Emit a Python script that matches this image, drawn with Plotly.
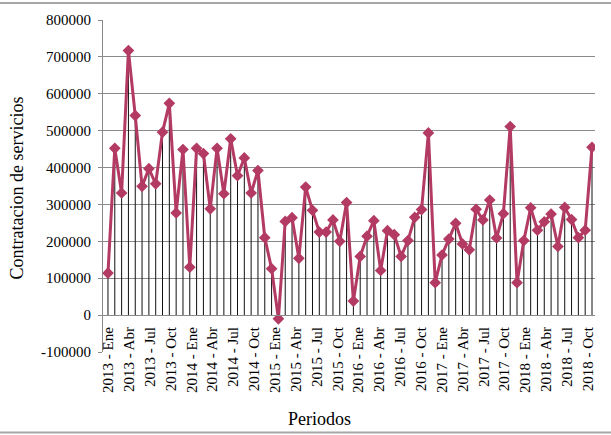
import plotly.graph_objects as go

# ---- data ----
values = [
    114000, 452000, 331000, 717000, 541000, 349000, 397000, 356000, 496000, 574000, 277000, 449000,
    130000, 452000, 438000, 288000, 452000, 329000, 478000, 378000, 426000, 331000, 392000, 210000,
    126000, -10000, 254000, 264000, 154000, 347000, 284000, 225000, 225000, 258000, 200000, 305000,
    38000, 159000, 214000, 256000, 121000, 229000, 218000, 159000, 202000, 265000, 286000, 494000,
    88000, 163000, 206000, 249000, 193000, 177000, 287000, 258000, 312000, 209000, 275000, 511000,
    88000, 202000, 291000, 230000, 253000, 274000, 186000, 292000, 259000, 210000, 230000, 455000,
]
tick_labels = [
    "2013 - Ene", "2013 - Abr", "2013 - Jul", "2013 - Oct",
    "2014 - Ene", "2014 - Abr", "2014 - Jul", "2014 - Oct",
    "2015 - Ene", "2015 - Abr", "2015 - Jul", "2015 - Oct",
    "2016 - Ene", "2016 - Abr", "2016 - Jul", "2016 - Oct",
    "2017 - Ene", "2017 - Abr", "2017 - Jul", "2017 - Oct",
    "2018 - Ene", "2018 - Abr", "2018 - Jul", "2018 - Oct",
]
y_tick_values = [-100000, 0, 100000, 200000, 300000, 400000, 500000, 600000, 700000, 800000]
y_tick_labels = ["-100000", "0", "100000", "200000", "300000", "400000", "500000", "600000", "700000", "800000"]
y_title = "Contratacion de servicios"
x_title = "Periodos"

# ---- build ----
x = list(range(len(values)))
LABEL_STEP = 3.06
tick_pos = [0.04 + k * LABEL_STEP for k in range(len(tick_labels))]

drop_x, drop_y = [], []
for xi, v in zip(x, values):
    drop_x += [xi, xi, None]
    drop_y += [v, 0, None]

LINE_COLOR = "#B33A62"
FONT = "Liberation Serif"

fig = go.Figure()
fig.add_trace(go.Scatter(x=drop_x, y=drop_y, mode="lines",
                         line=dict(color="#111111", width=1), hoverinfo="skip", showlegend=False))
fig.add_trace(go.Scatter(x=x, y=values, mode="lines+markers",
                         line=dict(color=LINE_COLOR, width=3),
                         marker=dict(symbol="diamond", size=9, color=LINE_COLOR,
                                     line=dict(color=LINE_COLOR, width=0)),
                         showlegend=False))

W, H = 611, 435
L, R, T, B = 103, 16, 20, 83
pw, ph = W - L - R, H - T - B

fig.update_layout(
    width=W, height=H,
    margin=dict(l=L, r=R, t=T, b=B, pad=0),
    paper_bgcolor="white", plot_bgcolor="white",
    font=dict(family=FONT, size=15, color="#000000"),
    xaxis=dict(range=[-0.73, 71.44], showgrid=False, zeroline=False,
               tickmode="array", tickvals=tick_pos, ticktext=tick_labels,
               tickangle=-90, anchor="free", position=1/9,
               showline=True, linecolor="#8a8a8a", linewidth=1,
               ticks="", ticklabelstandoff=5,
               tickfont=dict(family=FONT, size=15, color="#000000")),
    yaxis=dict(range=[-100000, 800000], showgrid=True, gridcolor="#8a8a8a", gridwidth=1,
               zeroline=False, tickmode="array", tickvals=y_tick_values, ticktext=y_tick_labels,
               showline=True, linecolor="#8a8a8a", linewidth=1,
               ticks="outside", ticklen=4, tickcolor="#8a8a8a", ticklabelstandoff=4,
               tickfont=dict(family=FONT, size=15, color="#000000")),
    annotations=[
        dict(text=y_title, xref="paper", yref="paper", x=(16.5 - L) / pw, y=(H - B - 188) / ph,
             textangle=-90, showarrow=False, font=dict(family=FONT, size=18, color="#000000"),
             xanchor="center", yanchor="middle"),
        dict(text=x_title, xref="paper", yref="paper", x=(319.6 - L) / pw, y=(H - B - 419) / ph,
             showarrow=False, font=dict(family=FONT, size=18, color="#000000"),
             xanchor="center", yanchor="middle"),
    ],
    shapes=[
        dict(type="line", xref="paper", yref="paper", x0=-L / pw, x1=(W - L) / pw,
             y0=(H - B - 3) / ph, y1=(H - B - 3) / ph, line=dict(color="#a6a6a6", width=2)),
        dict(type="line", xref="paper", yref="paper", x0=-L / pw, x1=(W - L) / pw,
             y0=(H - B - 432.5) / ph, y1=(H - B - 432.5) / ph, line=dict(color="#a6a6a6", width=2)),
    ],
)

fig.write_html("out.html")
